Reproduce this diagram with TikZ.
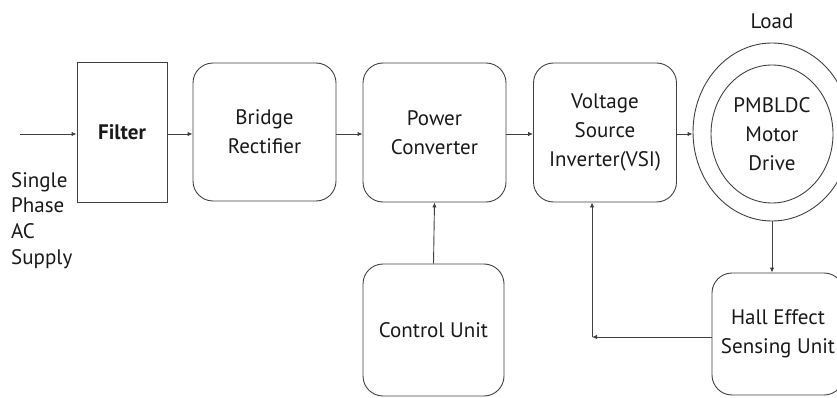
\documentclass[tikz,border=0pt]{standalone}
\usepackage{fontspec}
\setmainfont{PT Sans}
\usetikzlibrary{arrows.meta,shapes.geometric}
\begin{document}
\begin{tikzpicture}[x=1pt,y=-1pt,
  every node/.style={font=\fontsize{21}{29}\selectfont, text=black!90},
  line/.style={draw=black!75, line width=0.9pt},
  arr/.style={line, -{Latex[length=5pt,width=4.5pt]}},
  blk/.style={line, rounded corners=20pt, align=center, inner sep=0pt},
  sq/.style={line, align=center, inner sep=0pt}]
\useasboundingbox (0,0) rectangle (837,398);
\clip (0,0) rectangle (837,398);

% blocks of the drive chain
\node[sq, minimum width=90pt, minimum height=140pt] (filter) at (122,132) {\textbf{Filter}};
\node[blk, minimum width=143pt, minimum height=138pt] (bridge) at (264.5,132) {Bridge\\Rectifier};
\node[blk, minimum width=143pt, minimum height=139pt] (power) at (434.5,132.5) {Power\\Converter};
\node[blk, minimum width=143pt, minimum height=139pt] (vsi) at (605,132.5) {Voltage\\Source\\Inverter(VSI)};
\node[blk, minimum width=141pt, minimum height=132pt] (control) at (433.5,330) {Control Unit};
\node[blk, minimum width=132pt, minimum height=122pt] (hall) at (778,334) {Hall Effect\\Sensing Unit};

% motor with its load ring
\node[line, ellipse, minimum width=158pt, minimum height=178pt, inner sep=0pt] (outer) at (772,132) {};
\node[line, ellipse, minimum width=122pt, minimum height=138pt, inner sep=0pt, align=center] (motor) at (772,134) {PMBLDC\\Motor\\Drive};
\node (load) at (772,21) {Load};

% supply input
\coordinate (in) at (20,134);
\node[anchor=north west, align=left, inner sep=0pt, font=\fontsize{21}{25.7}\selectfont] (supply) at (11,172) {Single\\Phase\\AC\\Supply};

% connectors
\draw[arr] (in) -- (in -| filter.west);
\draw[arr] (filter.east |- in) -- (bridge.west |- in);
\draw[arr] (bridge.east |- in) -- (power.west |- in);
\draw[arr] (power.east |- in) -- (vsi.west |- in);
\draw[arr] (vsi.east |- in) -- (outer.west |- in);
\draw[arr] (control.north) -- (power.south);
\draw[arr] (outer.south) -- (outer.south |- hall.north);
\coordinate (fb) at (592,337);
\draw[arr] (hall.west |- fb) -- (fb);
\draw[arr] (fb) -- (fb |- vsi.south);
\end{tikzpicture}
\end{document}
